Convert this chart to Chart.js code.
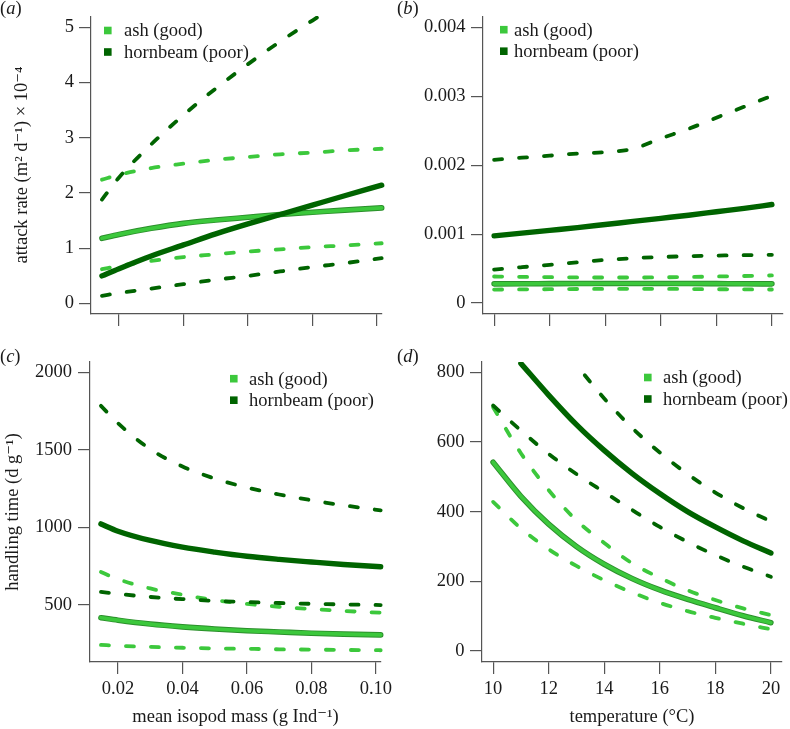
<!DOCTYPE html>
<html>
<head>
<meta charset="utf-8">
<title>Attack rate and handling time</title>
<script src="https://cdn.jsdelivr.net/npm/chart.js@4.4.1/dist/chart.umd.min.js"></script>
<style>
  html, body { margin: 0; padding: 0; background: #ffffff; }
  #wrap { position: relative; width: 790px; height: 729px; }
  #wrap canvas { position: absolute; left: 0; top: 0; }
</style>
</head>
<body>
<div id="wrap">
  <canvas id="panelA" width="790" height="729"></canvas>
  <canvas id="panelB" width="790" height="729"></canvas>
  <canvas id="panelC" width="790" height="729"></canvas>
  <canvas id="panelD" width="790" height="729"></canvas>
</div>
<script>
/* ---------------------------------------------------
   Data.
   Mass panels (a, c) share massX, temperature
   panels (b, d) share tempX unless a curve enters
   the plot late (own x array).
   --------------------------------------------------- */
var massX = [0.0147, 0.02, 0.03, 0.04, 0.05, 0.06, 0.07, 0.08, 0.09, 0.1015];
var tempX = [10, 11, 12, 13, 14, 15, 16, 17, 18, 19, 20];

var massTicks = [0.02, 0.04, 0.06, 0.08, 0.10];
var tempTicks = [10, 12, 14, 16, 18, 20];
var attackMassTicks = [0, 1, 2, 3, 4, 5];
var attackTempTicks = [0, 0.001, 0.002, 0.003, 0.004];
var handlingMassTicks = [500, 1000, 1500, 2000];
var handlingTempTicks = [0, 200, 400, 600, 800];

// (a) attack rate (x 10^-4) against mass
var attackMassAsh    = [1.18, 1.25, 1.36, 1.45, 1.51, 1.56, 1.61, 1.65, 1.69, 1.73];
var attackMassAshLo  = [0.62, 0.68, 0.77, 0.84, 0.89, 0.94, 0.98, 1.02, 1.05, 1.09];
var attackMassAshHi  = [2.24, 2.33, 2.45, 2.53, 2.60, 2.65, 2.70, 2.73, 2.77, 2.80];
var attackMassHorn   = [0.50, 0.63, 0.86, 1.06, 1.26, 1.44, 1.61, 1.78, 1.95, 2.14];
var attackMassHornLo = [0.14, 0.19, 0.27, 0.35, 0.43, 0.50, 0.58, 0.66, 0.73, 0.82];
var attackMassHornHiX = [0.0147, 0.02, 0.03, 0.04, 0.05, 0.06, 0.07, 0.08, 0.085];
var attackMassHornHi  = [1.88, 2.28, 2.88, 3.41, 3.89, 4.33, 4.74, 5.12, 5.30];

// (b) attack rate against temperature
var attackTempAsh    = [0.000278, 0.000279, 0.000281, 0.000282, 0.000283, 0.000283, 0.000283, 0.000282, 0.000281, 0.000279, 0.000278];
var attackTempAshLo  = [0.000195, 0.000198, 0.000200, 0.000203, 0.000205, 0.000206, 0.000205, 0.000203, 0.000200, 0.000198, 0.000196];
var attackTempAshHi  = [0.000385, 0.000380, 0.000375, 0.000372, 0.000370, 0.000370, 0.000372, 0.000378, 0.000385, 0.000392, 0.000400];
var attackTempHorn   = [0.000975, 0.001015, 0.001055, 0.001095, 0.00114, 0.001185, 0.00123, 0.001275, 0.001325, 0.001375, 0.00143];
var attackTempHornLo = [0.000484, 0.00052, 0.000555, 0.00059, 0.000625, 0.00065, 0.000668, 0.00068, 0.000688, 0.000695, 0.0007];
var attackTempHornHi = [0.00208, 0.00211, 0.00214, 0.00217, 0.00219, 0.00224, 0.00239, 0.00253, 0.00269, 0.00285, 0.00301];

// (c) handling time against mass
var handMassAsh    = [416, 400, 375, 357, 343, 332, 324, 316, 310, 305];
var handMassAshLo  = [240, 235, 228, 222, 218, 215, 212, 210, 208, 206];
var handMassAshHi  = [712, 665, 605, 565, 530, 505, 487, 472, 460, 448];
var handMassHorn   = [1022, 975, 915, 872, 840, 813, 793, 776, 760, 745];
var handMassHornLo = [583, 570, 550, 536, 525, 517, 511, 506, 502, 498];
var handMassHornHi = [1785, 1672, 1505, 1393, 1315, 1257, 1212, 1175, 1142, 1110];

// (d) handling time against temperature
var handTempAsh    = [542, 444, 364, 300, 249, 208, 175, 148, 124, 101, 81];
var handTempAshLo  = [428, 352, 292, 244, 203, 168, 138, 114, 95, 78, 62];
var handTempAshHi  = [700, 568, 462, 375, 310, 252, 210, 174, 146, 122, 103];
var handTempHornX  = [11, 12, 13, 14, 15, 16, 17, 18, 19, 20];
var handTempHorn   = [826, 735, 650, 576, 510, 452, 400, 356, 316, 281];
var handTempHornLo = [705, 633, 566, 508, 456, 405, 356, 313, 275, 242, 213];
var handTempHornHiX = [13.3, 14, 15, 16, 17, 18, 19, 20];
var handTempHornHi  = [792, 725, 641, 570, 508, 455, 410, 372];

var legendNames = ['ash (good)', 'hornbeam (poor)'];

/* ---------------------------------------------------
   Styling
   --------------------------------------------------- */
var SERIF = '"Liberation Serif", "DejaVu Serif", serif';
var FONT_PX = 18.5;
var TEXT_COLOUR = '#1a1a1a';
var AXIS_COLOUR = '#555555';
var ASH = '#3cc83c';
var ASH_EDGE = '#2b8f2b';
var HORN = '#006400';
var PAGE_W = 790, PAGE_H = 729;

Chart.defaults.font.family = SERIF;
Chart.defaults.font.size = FONT_PX;
Chart.defaults.color = TEXT_COLOUR;

function pts(xs, ys) {
  return xs.map(function (x, i) { return { x: x, y: ys[i] }; });
}

function lineSet(xs, ys, colour, width, order, dash) {
  return {
    data: pts(xs, ys),
    borderColor: colour,
    borderWidth: width,
    borderDash: dash || [],
    borderCapStyle: 'round',
    borderJoinStyle: 'round',
    cubicInterpolationMode: 'monotone',
    pointRadius: 0,
    fill: false,
    order: order,
    clip: { left: 4, top: 0, right: 4, bottom: 4 }
  };
}

// One panel: ash drawn first, hornbeam on top; ash mean has a thin dark edge
function panelSets(xAsh, ash, ashLo, ashHi, xHorn, horn, xHornLo, hornLo, xHornHi, hornHi) {
  var DASH = [8, 17];
  return [
    lineSet(xAsh, ashLo, ASH, 3.8, 6, DASH),
    lineSet(xAsh, ashHi, ASH, 3.8, 6, DASH),
    lineSet(xAsh, ash, ASH_EDGE, 5.6, 5),
    lineSet(xAsh, ash, ASH, 3.7, 4),
    lineSet(xHornLo, hornLo, HORN, 3.8, 3, DASH),
    lineSet(xHornHi, hornHi, HORN, 3.8, 3, DASH),
    lineSet(xHorn, horn, HORN, 5.4, 1)
  ];
}

function axisOptions(o) {
  return {
    type: 'linear',
    position: o.position,
    min: o.min,
    max: o.max,
    afterBuildTicks: function (s) {
      s.ticks = o.ticks.map(function (v) { return { value: v }; });
    },
    afterFit: function (s) {
      if (o.position === 'left') { s.width = o.size; } else { s.height = o.size; }
    },
    grid: { drawOnChartArea: false, drawTicks: true, tickLength: 12, color: AXIS_COLOUR, lineWidth: 1.2 },
    border: { display: true, color: AXIS_COLOUR, width: 1.2 },
    ticks: {
      display: o.labels,
      autoSkip: false,
      minRotation: 0,
      maxRotation: 0,
      padding: o.tickPad,
      color: TEXT_COLOUR,
      font: { family: SERIF, size: FONT_PX },
      callback: o.format
    },
    title: {
      display: !!o.title,
      text: o.title || '',
      color: TEXT_COLOUR,
      padding: 0,
      font: { family: SERIF, size: FONT_PX, lineHeight: 1 }
    }
  };
}

function paddingFor(area, yAxisW, xAxisH) {
  return {
    left: area.left - yAxisW,
    top: area.top,
    right: PAGE_W - area.right,
    bottom: PAGE_H - area.bottom - xAxisH
  };
}

/* Panel letter and the two-entry legend, drawn in page coordinates */
var panelDeco = {
  id: 'panelDeco',
  afterDraw: function (chart, args, opts) {
    var ctx = chart.ctx;
    var plain = FONT_PX + 'px ' + SERIF;
    ctx.save();
    ctx.fillStyle = TEXT_COLOUR;
    ctx.textAlign = 'left';
    ctx.textBaseline = 'alphabetic';
    var x = opts.labelX;
    ctx.font = plain;
    ctx.fillText('(', x, opts.labelY);
    x += ctx.measureText('(').width;
    ctx.font = 'italic ' + plain;
    ctx.fillText(opts.letter, x, opts.labelY);
    x += ctx.measureText(opts.letter).width;
    ctx.font = plain;
    ctx.fillText(')', x, opts.labelY);

    var colours = [ASH, HORN];
    ctx.textBaseline = 'middle';
    legendNames.forEach(function (name, i) {
      var cy = opts.legendY + i * 21.5;
      ctx.fillStyle = colours[i];
      ctx.fillRect(opts.legendX, cy - 3.8, 7.6, 7.6);
      ctx.fillStyle = TEXT_COLOUR;
      ctx.fillText(name, opts.textX, cy + 1);
    });
    ctx.restore();
  }
};
Chart.register(panelDeco);

function makePanel(id, p) {
  return new Chart(document.getElementById(id), {
    type: 'line',
    data: { datasets: p.datasets },
    options: {
      responsive: false,
      animation: false,
      events: [],
      layout: { padding: paddingFor(p.area, p.yAxisW, p.xAxisH) },
      plugins: {
        legend: { display: false },
        tooltip: { enabled: false },
        panelDeco: p.deco
      },
      scales: {
        x: axisOptions(Object.assign({ position: 'bottom', size: p.xAxisH }, p.x)),
        y: axisOptions(Object.assign({ position: 'left', size: p.yAxisW }, p.y))
      }
    }
  });
}

var fmtMass = function (v) { return v.toFixed(2); };
var fmtPlain = function (v) { return String(v); };

// (a)
makePanel('panelA', {
  area: { left: 91, top: 14, right: 382, bottom: 314 },
  yAxisW: 78.25, xAxisH: 20,
  datasets: panelSets(massX, attackMassAsh, attackMassAshLo, attackMassAshHi,
                      massX, attackMassHorn, massX, attackMassHornLo, attackMassHornHiX, attackMassHornHi),
  x: { min: 0.0113, max: 0.1016, ticks: massTicks, labels: false, tickPad: 4 },
  y: { min: -0.19, max: 5.2, ticks: attackMassTicks, labels: true, tickPad: 5, format: fmtPlain,
       title: 'attack rate (m\u00B2 d\u207B\u00B9) \u00D7 10\u207B\u2074' },
  deco: { letter: 'a', labelX: 0, labelY: 14, legendX: 104, textX: 124, legendY: 30.5 }
});

// (b)
makePanel('panelB', {
  area: { left: 483, top: 14, right: 783, bottom: 314 },
  yAxisW: 80, xAxisH: 20,
  datasets: panelSets(tempX, attackTempAsh, attackTempAshLo, attackTempAshHi,
                      tempX, attackTempHorn, tempX, attackTempHornLo, tempX, attackTempHornHi),
  x: { min: 9.6, max: 20.4, ticks: tempTicks, labels: false, tickPad: 4 },
  y: { min: -0.00016, max: 0.00416, ticks: attackTempTicks, labels: true, tickPad: 5.5, format: fmtPlain },
  deco: { letter: 'b', labelX: 397, labelY: 14, legendX: 500, textX: 514, legendY: 29.7 }
});

// (c)
makePanel('panelC', {
  area: { left: 90, top: 362, right: 381, bottom: 662 },
  yAxisW: 85.75, xAxisH: 64.25,
  datasets: panelSets(massX, handMassAsh, handMassAshLo, handMassAshHi,
                      massX, handMassHorn, massX, handMassHornLo, massX, handMassHornHi),
  x: { min: 0.0113, max: 0.1016, ticks: massTicks, labels: true, tickPad: 4, format: fmtMass,
       title: 'mean isopod mass (g Ind\u207B\u00B9)' },
  y: { min: 130, max: 2068, ticks: handlingMassTicks, labels: true, tickPad: 6, format: fmtPlain,
       title: 'handling time (d g\u207B\u00B9)' },
  deco: { letter: 'c', labelX: 0, labelY: 362, legendX: 230, textX: 249, legendY: 378.7 }
});

// (d)
makePanel('panelD', {
  area: { left: 482, top: 362, right: 782, bottom: 662 },
  yAxisW: 80, xAxisH: 64.25,
  datasets: panelSets(tempX, handTempAsh, handTempAshLo, handTempAshHi,
                      handTempHornX, handTempHorn, tempX, handTempHornLo, handTempHornHiX, handTempHornHi),
  x: { min: 9.6, max: 20.4, ticks: tempTicks, labels: true, tickPad: 4, format: fmtPlain,
       title: 'temperature (\u00B0C)' },
  y: { min: -32, max: 830, ticks: handlingTempTicks, labels: true, tickPad: 5.5, format: fmtPlain },
  deco: { letter: 'd', labelX: 397, labelY: 362, legendX: 644, textX: 663, legendY: 377.5 }
});
</script>
</body>
</html>
